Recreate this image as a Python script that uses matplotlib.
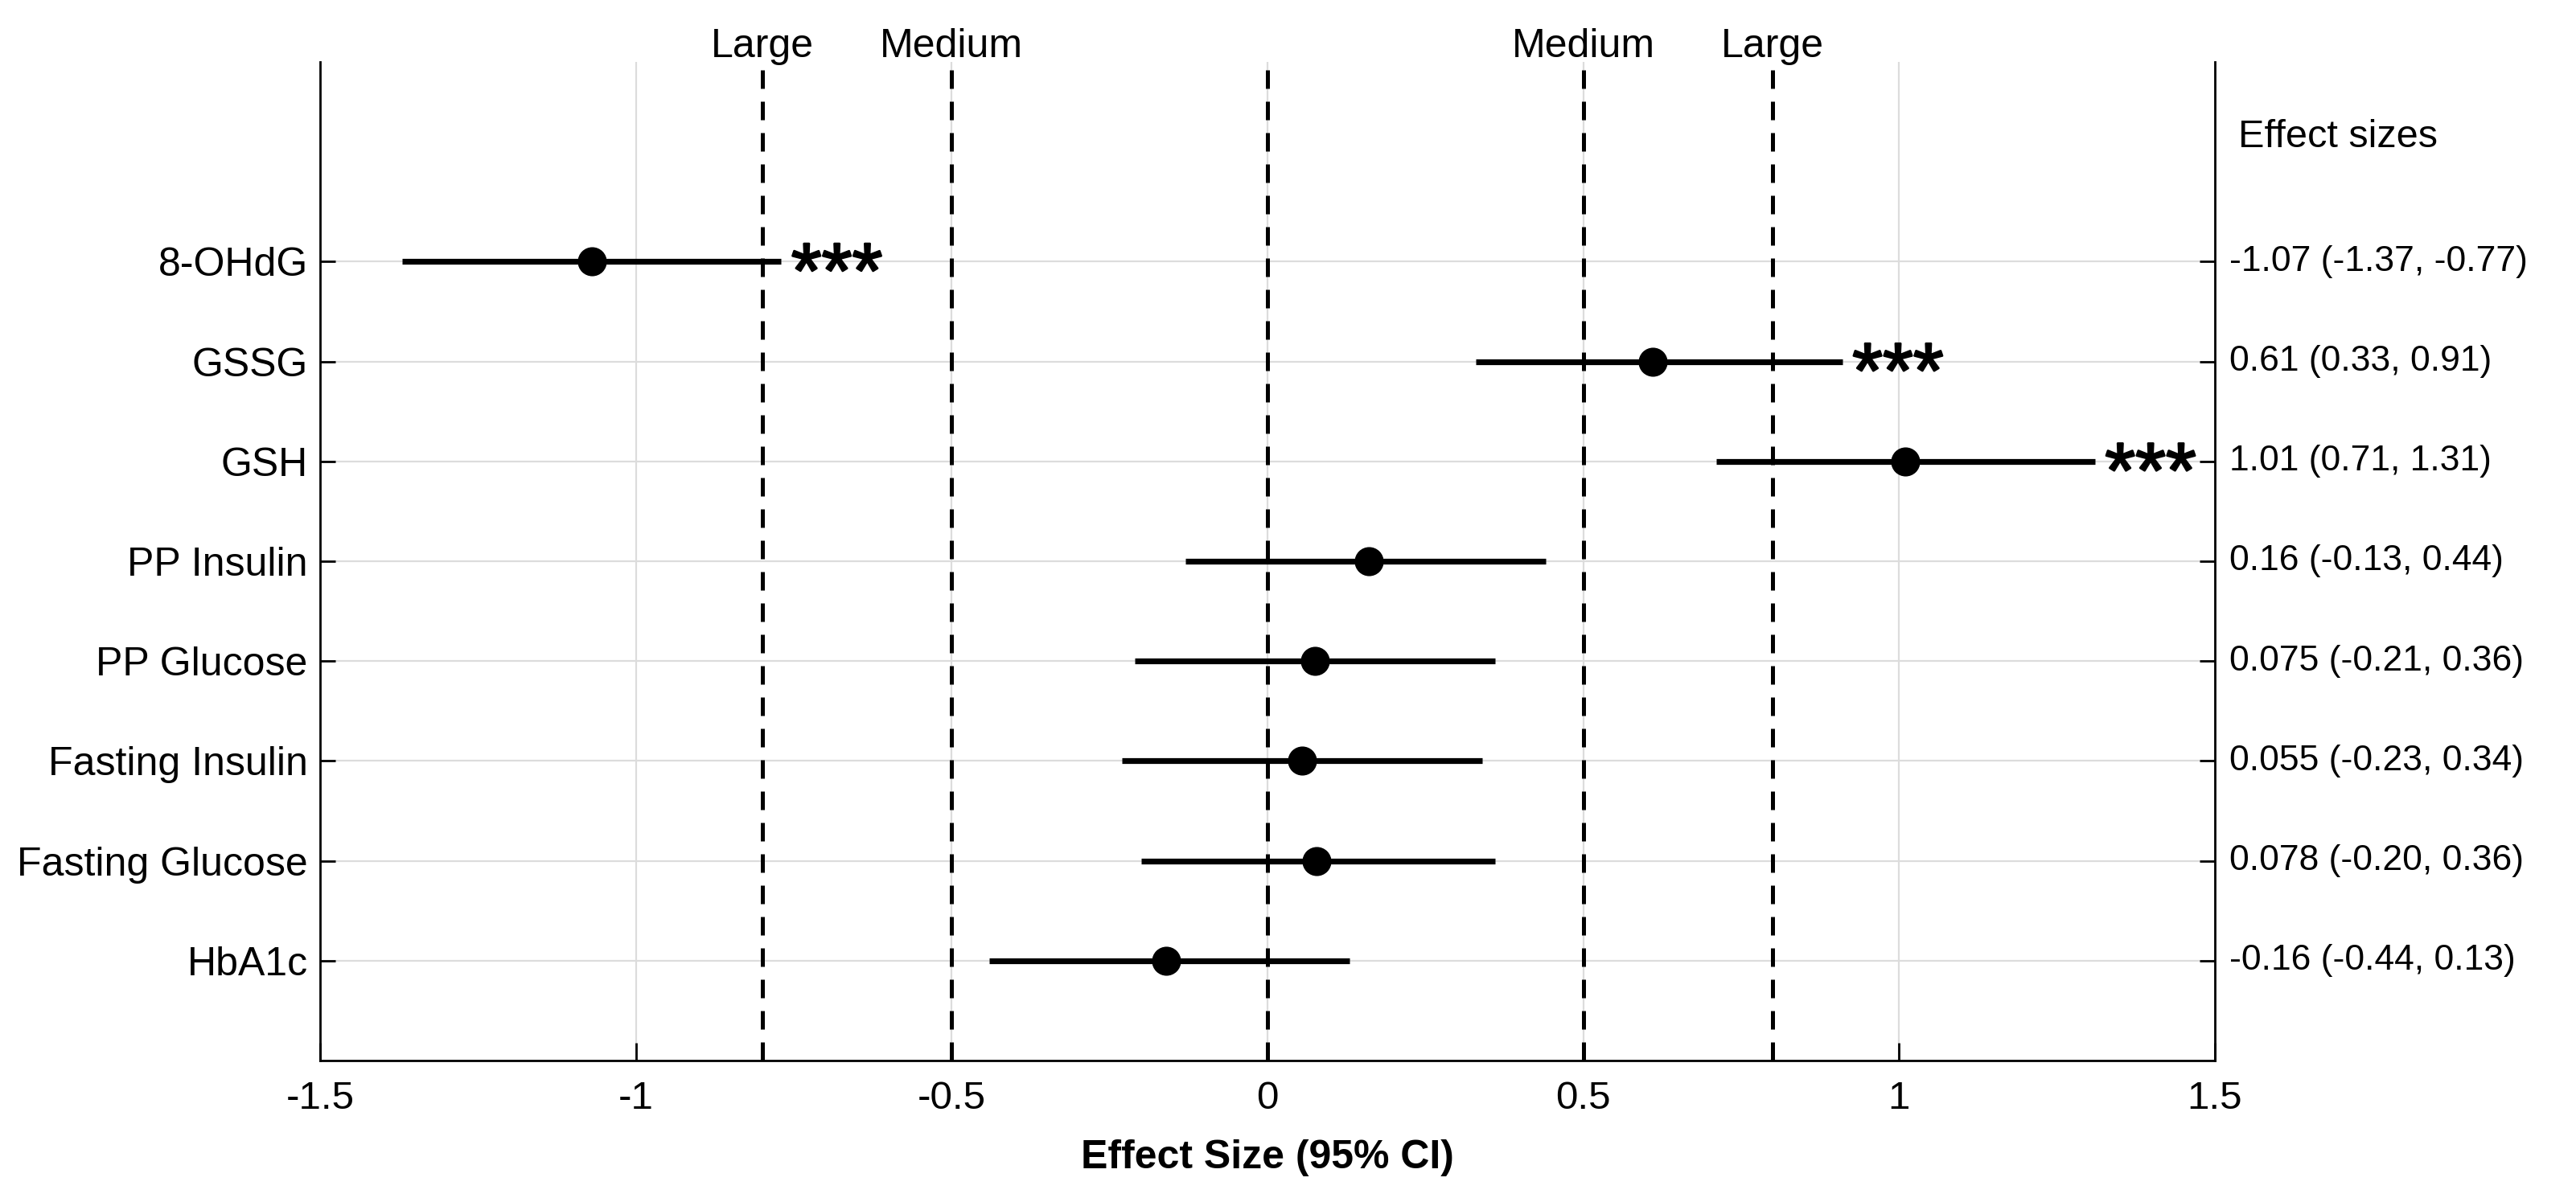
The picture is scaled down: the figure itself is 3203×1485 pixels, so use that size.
import matplotlib
matplotlib.use("Agg")
import matplotlib.pyplot as plt
import matplotlib.patheffects as pe

plt.rcParams['font.family'] = ['Liberation Sans', 'DejaVu Sans']

# ---- data ----
measures = ["8-OHdG", "GSSG", "GSH", "PP Insulin", "PP Glucose",
            "Fasting Insulin", "Fasting Glucose", "HbA1c"]
effect = [-1.07, 0.61, 1.01, 0.16, 0.075, 0.055, 0.078, -0.16]
ci_low = [-1.37, 0.33, 0.71, -0.13, -0.21, -0.23, -0.20, -0.44]
ci_high = [-0.77, 0.91, 1.31, 0.44, 0.36, 0.34, 0.36, 0.13]
effect_labels = ["-1.07 (-1.37, -0.77)", "0.61 (0.33, 0.91)", "1.01 (0.71, 1.31)",
                 "0.16 (-0.13, 0.44)", "0.075 (-0.21, 0.36)", "0.055 (-0.23, 0.34)",
                 "0.078 (-0.20, 0.36)", "-0.16 (-0.44, 0.13)"]
significance = ["***", "***", "***", "", "", "", "", ""]
ref_lines = [-0.8, -0.5, 0, 0.5, 0.8]
ref_labels = ["Large", "Medium", "", "Medium", "Large"]
xticks = [-1.5, -1, -0.5, 0, 0.5, 1, 1.5]
xticklabels = ["-1.5", "-1", "-0.5", "0", "0.5", "1", "1.5"]

rows = list(range(len(measures), 0, -1))  # 8 .. 1

W, H = 3203, 1485
fig = plt.figure(figsize=(W / 200, H / 200), dpi=200)
L, R, T, B = 398, 2754, 77, 1319
ax = fig.add_axes([L / W, (H - B) / H, (R - L) / W, (B - T) / H])

ax.set_xlim(-1.5, 1.5)
ax.set_ylim(0, 10)

# grid
ax.set_xticks(xticks)
ax.set_xticklabels(xticklabels)
ax.set_yticks(rows)
ax.set_yticklabels(measures)
ax.grid(True, color='#dcdcdc', linewidth=0.8, zorder=0)
ax.set_axisbelow(True)

# reference lines
for xv, lab in zip(ref_lines, ref_labels):
    ax.axvline(xv, color='black', linewidth=1.8, linestyle=(0, (4.6, 3.2)), zorder=2)
    if lab:
        ax.text(xv, 10.05, lab, ha='center', va='baseline', fontsize=18)

# CIs and points
for y, e, lo, hi, sig in zip(rows, effect, ci_low, ci_high, significance):
    ax.plot([lo, hi], [y, y], color='black', linewidth=2.6, solid_capstyle='butt', zorder=3)
    ax.plot([e], [y], 'o', color='black', markersize=12, zorder=4)
    if sig:
        ax.annotate(sig, xy=(hi, y), xytext=(4.5, -16), textcoords='offset points',
                    ha='left', va='baseline', fontsize=35, zorder=5,
                    path_effects=[pe.withStroke(linewidth=0.9, foreground='black')])

# right-side effect size labels
trans = ax.get_yaxis_transform()
ax.text(1.0122, 9.15, "Effect sizes", transform=trans, ha='left', va='baseline',
        fontsize=17.5, clip_on=False)
for y, lab in zip(rows, effect_labels):
    ax.text(1.0078, y, lab, transform=trans, ha='left', va='center', fontsize=16,
            clip_on=False)

# spines and ticks
ax.spines['top'].set_visible(False)
for s in ['left', 'right', 'bottom']:
    ax.spines[s].set_linewidth(1.0)
    ax.spines[s].set_color('black')
ax.tick_params(axis='y', direction='in', length=7, width=1.0, right=True,
               labelright=False, labelsize=18, pad=5.5)
ax.tick_params(axis='x', direction='in', length=8, width=1.0, top=False,
               labelsize=17.8, pad=9)

ax.set_xlabel("Effect Size (95% CI)", fontsize=18, fontweight='bold', labelpad=10)

fig.savefig("out.png", dpi=200)
